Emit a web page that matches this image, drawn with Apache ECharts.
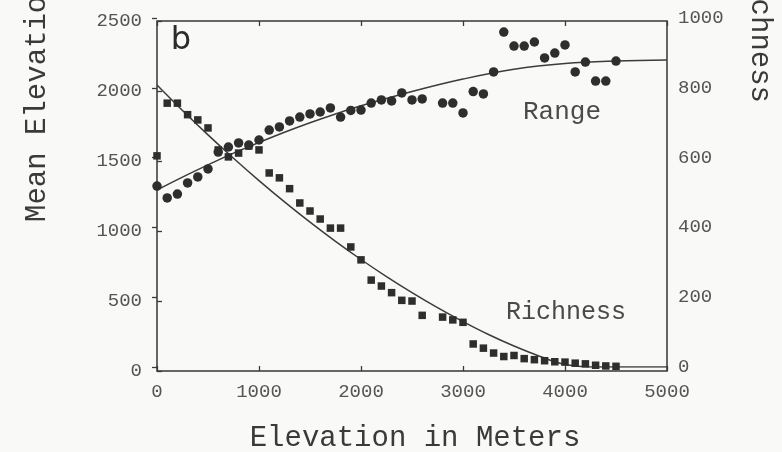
<!DOCTYPE html>
<html>
<head>
<meta charset="utf-8">
<script src="https://cdn.jsdelivr.net/npm/echarts@6/dist/echarts.min.js"></script>
<style>
  html, body { margin: 0; padding: 0; background: #f9f9f7; }
  #chart { width: 782px; height: 452px; }
</style>
</head>
<body>
<div id="chart"></div>
<script>
// Elevation bands (m); the 2700 m band has no record
const elevations = [0, 100, 200, 300, 400, 500, 600, 700, 800, 900,
  1000, 1100, 1200, 1300, 1400, 1500, 1600, 1700, 1800, 1900,
  2000, 2100, 2200, 2300, 2400, 2500, 2600, 2800, 2900,
  3000, 3100, 3200, 3300, 3400, 3500, 3600, 3700, 3800, 3900,
  4000, 4100, 4200, 4300, 4400, 4500];

// Mean elevational range of the species in each band (m, left axis)
const meanRange = [1321, 1236, 1264, 1343, 1386, 1443, 1564, 1600, 1629, 1614,
  1650, 1721, 1743, 1786, 1814, 1836, 1850, 1879, 1814, 1861,
  1864, 1914, 1936, 1929, 1986, 1936, 1943, 1914, 1914,
  1843, 1996, 1979, 2136, 2421, 2321, 2321, 2350, 2236, 2271,
  2329, 2136, 2207, 2071, 2071, 2214];

// Number of species in each band (right axis)
const richness = [605, 756, 756, 723, 708, 685, 622, 602, 613, 633,
  622, 556, 542, 511, 470, 447, 424, 398, 398, 344,
  307, 249, 232, 213, 191, 189, 148, 143, 135,
  128, 66, 54, 40, 30, 33, 24, 21, 18, 15,
  14, 11, 9, 5, 3, 2];

// Fitted trend for range
const rangeFitX = [0, 250, 500, 750, 1000, 1250, 1500, 1750, 2000, 2500, 3000, 3500, 4000, 4500, 5000];
const rangeFitY = [1293, 1385, 1472, 1556, 1632, 1705, 1773, 1836, 1894, 1996, 2085, 2155, 2196, 2214, 2221];

// Fitted trend for richness
const richFitX = [0, 250, 500, 750, 1000, 1250, 1500, 1750, 2000, 2250, 2500, 2750, 3000, 3250, 3500, 3750, 4000, 4250, 4500, 5000];
const richFitY = [808, 735, 665, 598, 534, 473, 415, 360, 308, 259, 213, 170, 130, 93, 60, 31, 7, 0, 0, 0];

// Axis extents: [min, max, interval]
const elevAxis = [0, 5000, 1000];
const rangeAxis = [0, 2500, 500];
const richAxis = [0, 1000, 200];

const ink = '#2e2e2e';
const labelGrey = '#555555';
const mono = '"Liberation Mono", "DejaVu Sans Mono", monospace';

const chart = echarts.init(document.getElementById('chart'), null, { renderer: 'canvas' });

const tickStyle = { show: true, inside: true, length: 5, lineStyle: { color: '#3a3a3a', width: 1.3 } };
const tickFont = { color: labelGrey, fontFamily: mono, fontSize: 19, formatter: v => String(v) };

chart.setOption({
  backgroundColor: '#f9f9f7',
  animation: false,
  grid: [
    { left: 157, right: 115, top: 21, bottom: 81, show: true, borderColor: '#363636', borderWidth: 1.5, backgroundColor: 'transparent' },
    { left: 157, right: 115, top: 18, bottom: 85, show: false }
  ],
  xAxis: [
    {
      gridIndex: 0, type: 'value', position: 'bottom',
      min: elevAxis[0], max: elevAxis[1], interval: elevAxis[2],
      axisLine: { show: false }, splitLine: { show: false },
      axisTick: tickStyle,
      axisLabel: Object.assign({ margin: 11 }, tickFont)
    },
    {
      gridIndex: 0, type: 'value', position: 'top',
      min: elevAxis[0], max: elevAxis[1], interval: elevAxis[2],
      axisLine: { show: false }, splitLine: { show: false },
      axisTick: tickStyle, axisLabel: { show: false }
    },
    {
      gridIndex: 1, type: 'value', show: false,
      min: elevAxis[0], max: elevAxis[1], interval: elevAxis[2]
    }
  ],
  yAxis: [
    {
      gridIndex: 0, type: 'value', position: 'left',
      min: rangeAxis[0], max: rangeAxis[1], interval: rangeAxis[2],
      axisLine: { show: false }, splitLine: { show: false },
      axisTick: tickStyle,
      axisLabel: Object.assign({ margin: 15 }, tickFont)
    },
    {
      gridIndex: 1, type: 'value', position: 'right',
      min: richAxis[0], max: richAxis[1], interval: richAxis[2],
      axisLine: { show: false }, splitLine: { show: false },
      axisTick: tickStyle,
      axisLabel: Object.assign({ margin: 11 }, tickFont)
    }
  ],
  series: [
    {
      name: 'Range fit', type: 'line', xAxisIndex: 0, yAxisIndex: 0,
      data: rangeFitX.map((x, i) => [x, rangeFitY[i]]),
      smooth: 0.4, symbol: 'none', silent: true,
      lineStyle: { color: '#3c3c3c', width: 1.5 }, z: 2
    },
    {
      name: 'Richness fit', type: 'line', xAxisIndex: 2, yAxisIndex: 1,
      data: richFitX.map((x, i) => [x, richFitY[i]]),
      smooth: 0.4, symbol: 'none', silent: true,
      lineStyle: { color: '#3c3c3c', width: 1.5 }, z: 2
    },
    {
      name: 'Range', type: 'scatter', xAxisIndex: 0, yAxisIndex: 0,
      data: elevations.map((e, i) => [e, meanRange[i]]),
      symbol: 'circle', symbolSize: 9.5,
      itemStyle: { color: ink, opacity: 1 }, z: 3
    },
    {
      name: 'Richness', type: 'scatter', xAxisIndex: 2, yAxisIndex: 1,
      data: elevations.map((e, i) => [e, richness[i]]),
      symbol: 'rect', symbolSize: 7.5,
      itemStyle: { color: ink, opacity: 1 }, z: 3
    }
  ],
  graphic: [
    {
      type: 'text', x: 181, y: 41, silent: true,
      style: { text: 'b', font: '32px "DejaVu Sans"', fill: '#2b2b2b', textAlign: 'center', textVerticalAlign: 'middle' }
    },
    {
      type: 'text', x: 562, y: 112, silent: true,
      style: { text: 'Range', font: '26px ' + mono, fill: '#4a4a4a', textAlign: 'center', textVerticalAlign: 'middle' }
    },
    {
      type: 'text', x: 566, y: 312, silent: true,
      style: { text: 'Richness', font: '25px ' + mono, fill: '#4a4a4a', textAlign: 'center', textVerticalAlign: 'middle' }
    },
    {
      type: 'text', x: 415, y: 438, silent: true,
      style: { text: 'Elevation in Meters', font: '29px ' + mono, fill: '#3a3a3a', textAlign: 'center', textVerticalAlign: 'middle' }
    },
    {
      type: 'text', x: 37, y: 222, rotation: Math.PI / 2, silent: true,
      style: { text: 'Mean Elevational Range', font: '29px ' + mono, fill: '#3a3a3a', textAlign: 'left', textVerticalAlign: 'middle' }
    },
    {
      type: 'text', x: 760, y: 103, rotation: -Math.PI / 2, silent: true,
      style: { text: 'Species Richness', font: '29px ' + mono, fill: '#3a3a3a', textAlign: 'right', textVerticalAlign: 'middle' }
    }
  ]
});
</script>
</body>
</html>
